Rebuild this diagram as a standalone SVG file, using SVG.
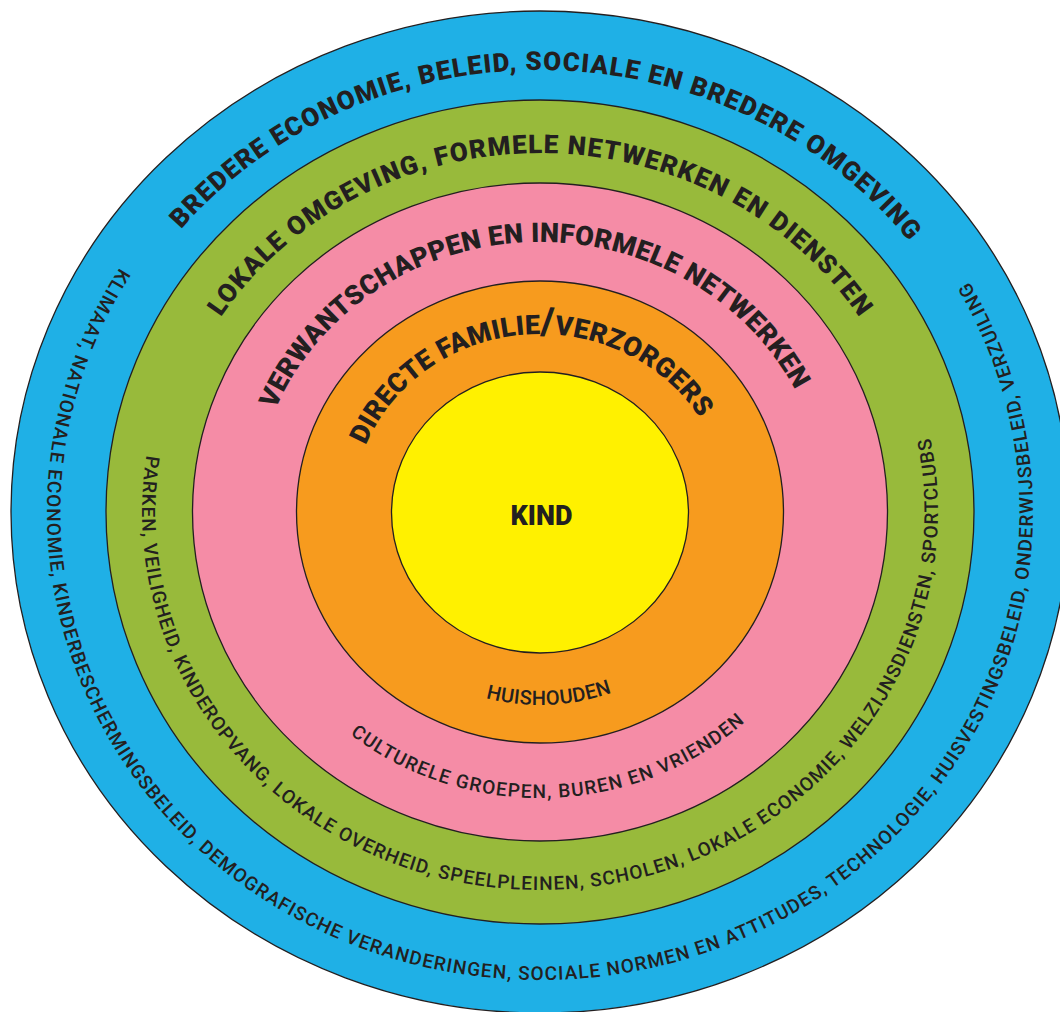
<svg xmlns="http://www.w3.org/2000/svg" xmlns:xlink="http://www.w3.org/1999/xlink" width="1060" height="1012" viewBox="0 0 1060 1012">
  <style>
    .ring { stroke: #231f20; stroke-width: 1.3; }
    .head { font-family: Roboto, "Liberation Sans", sans-serif; font-weight: 900; fill: #231f20; }
    .sub { font-family: Roboto, "Liberation Sans", sans-serif; font-weight: 500; fill: #231f20; font-size: 19px; }
  </style>
  <defs>
    <path id="pBlueTop" d="M 177.1 790.2 A 467 442 0 1 1 892.4 802.0" fill="none"/>
    <path id="pGreenTop" d="M 248.9 742.8 A 380 359 0 1 1 831.1 742.8" fill="none"/>
    <path id="pPinkTop" d="M 328.4 693.6 A 286 270 0 1 1 766.1 677.3" fill="none"/>
    <path id="pOrangeTop" d="M 406.8 637.6 A 188 178 0 1 1 693.8 614.4" fill="none"/>
    <path id="pOrangeBot" d="M 377.7 395.0 A 204 193 0 1 0 689.9 381.1" fill="none"/>
    <path id="pPinkBot" d="M 302.4 335.5 A 302 286 0 1 0 765.0 321.2" fill="none"/>
    <path id="pGreenBot" d="M 229.4 275.7 A 398 378 0 1 0 839.0 262.5" fill="none"/>
    <path id="pBlueBot" d="M 167.9 205.0 A 493 468 0 1 0 923.1 217.5" fill="none"/>
  </defs>
  <rect width="1060" height="1012" fill="#ffffff"/>

  <g id="ring-blue">
    <ellipse class="ring" cx="540" cy="512" rx="529" ry="501" fill="#1fb0e6"/>
  </g>
  <g id="ring-green">
    <ellipse class="ring" cx="540" cy="512" rx="434" ry="412" fill="#98ba3b"/>
  </g>
  <g id="ring-pink">
    <ellipse class="ring" cx="540" cy="512" rx="347.5" ry="329" fill="#f58ca6"/>
  </g>
  <g id="ring-orange">
    <ellipse class="ring" cx="540" cy="512" rx="243.5" ry="231" fill="#f79b1e"/>
  </g>
  <g id="ring-yellow">
    <ellipse class="ring" cx="540" cy="512.5" rx="148.5" ry="140.5" fill="#fff100"/>
  </g>

  <g id="labels-blue">
    <text class="head" font-size="26"><textPath xlink:href="#pBlueTop" href="#pBlueTop" startOffset="50%" text-anchor="middle" textLength="825" lengthAdjust="spacing">BREDERE ECONOMIE, BELEID, SOCIALE EN BREDERE OMGEVING</textPath></text>
    <text class="sub"><textPath xlink:href="#pBlueBot" href="#pBlueBot" startOffset="50%" text-anchor="middle" textLength="2010" lengthAdjust="spacing">KLIMAAT, NATIONALE ECONOMIE, KINDERBESCHERMINGSBELEID, DEMOGRAFISCHE VERANDERINGEN, SOCIALE NORMEN EN ATTITUDES, TECHNOLOGIE, HUISVESTINGSBELEID, ONDERWIJSBELEID, VERZUILING</textPath></text>
  </g>
  <g id="labels-green">
    <text class="head" font-size="26"><textPath xlink:href="#pGreenTop" href="#pGreenTop" startOffset="50%" text-anchor="middle" textLength="747" lengthAdjust="spacing">LOKALE OMGEVING, FORMELE NETWERKEN EN DIENSTEN</textPath></text>
    <text class="sub"><textPath xlink:href="#pGreenBot" href="#pGreenBot" startOffset="50%" text-anchor="middle" textLength="1350" lengthAdjust="spacing">PARKEN, VEILIGHEID, KINDEROPVANG, LOKALE OVERHEID, SPEELPLEINEN, SCHOLEN, LOKALE ECONOMIE, WELZIJNSDIENSTEN, SPORTCLUBS</textPath></text>
  </g>
  <g id="labels-pink">
    <text class="head" font-size="27"><textPath xlink:href="#pPinkTop" href="#pPinkTop" startOffset="50%" text-anchor="middle" textLength="641" lengthAdjust="spacing">VERWANTSCHAPPEN EN INFORMELE NETWERKEN</textPath></text>
    <text class="sub"><textPath xlink:href="#pPinkBot" href="#pPinkBot" startOffset="50%" text-anchor="middle" textLength="427" lengthAdjust="spacing">CULTURELE GROEPEN, BUREN EN VRIENDEN</textPath></text>
  </g>
  <g id="labels-orange">
    <text class="head" font-size="27"><textPath xlink:href="#pOrangeTop" href="#pOrangeTop" startOffset="50%" text-anchor="middle" textLength="407" lengthAdjust="spacing">DIRECTE FAMILIE<tspan font-size="38">/</tspan>VERZORGERS</textPath></text>
    <text class="sub" style="font-size:20px"><textPath xlink:href="#pOrangeBot" href="#pOrangeBot" startOffset="50%" text-anchor="middle" textLength="128" lengthAdjust="spacing">HUISHOUDEN</textPath></text>
  </g>
  <g id="label-kind">
    <text class="head" font-size="27" x="541.5" y="525" text-anchor="middle">KIND</text>
  </g>
  <g id="connectors"></g>
</svg>
